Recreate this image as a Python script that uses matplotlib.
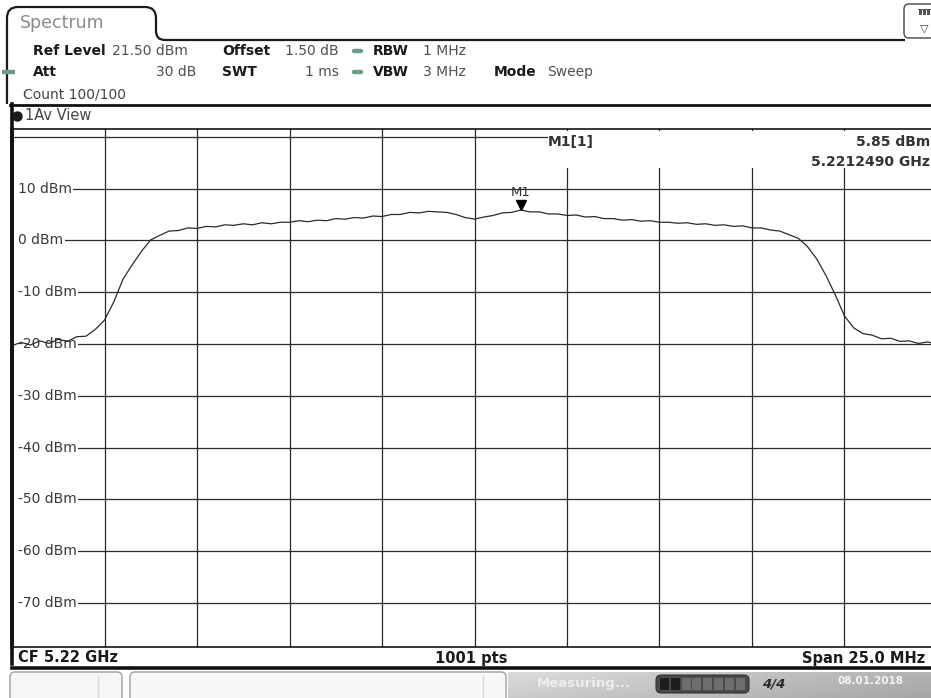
import numpy as np
import matplotlib.pyplot as plt
from matplotlib.path import Path
from matplotlib.patches import PathPatch, FancyBboxPatch, Rectangle
from matplotlib.transforms import offset_copy

# Sweep setup
center_ghz = 5.22
span_mhz = 25.0
ref_level = 21.5
range_db = 100.0
n_div = 10
n_pts = 1001

level_ticks = [20, 10, 0, -10, -20, -30, -40, -50, -60, -70]
level_labels = ["10 dBm", "0 dBm", "-10 dBm", "-20 dBm", "-30 dBm",
                "-40 dBm", "-50 dBm", "-60 dBm", "-70 dBm"]

# Averaged trace, one value every 0.25 MHz from -12.5 to +12.5 MHz
trace_dbm = [
    -20.3, -19.7, -20.2, -19.4, -19.9, -19.1, -19.5, -18.6, -18.5,
    -17.2, -15.4, -11.9, -7.5, -4.7, -2.1, 0.1, 1.0, 1.8, 1.9,
    2.4, 2.3, 2.7, 2.6, 3.0, 2.9, 3.2, 3.0, 3.4, 3.2,
    3.5, 3.5, 3.8, 3.6, 3.9, 3.8, 4.2, 4.1, 4.4, 4.3,
    4.7, 4.6, 5.0, 5.0, 5.4, 5.3, 5.6, 5.5, 5.4, 5.0,
    4.4, 4.1,
    4.5, 4.8, 5.3, 5.4, 5.85, 5.5, 5.5, 5.1, 5.1, 4.8,
    4.9, 4.5, 4.6, 4.2, 4.2, 3.9, 4.0, 3.7, 3.8, 3.5,
    3.5, 3.3, 3.4, 3.1, 3.2, 2.9, 3.0, 2.7, 2.8, 2.4,
    2.4, 2.0, 1.8, 1.1, 0.4, -1.2, -3.6, -6.8, -10.5, -14.6,
    -16.9, -18.0, -18.3, -19.0, -18.9, -19.5, -19.4, -19.9, -19.6, -20.1,
]

# Marker 1
mk_freq_ghz = 5.2212490
mk_level = 5.85

offset_mhz = np.linspace(-span_mhz / 2, span_mhz / 2, len(trace_dbm))
freqs = center_ghz + offset_mhz / 1000.0
f_lo = center_ghz - span_mhz / 2000.0
f_hi = center_ghz + span_mhz / 2000.0

W, H = 931, 698
fig = plt.figure(figsize=(W / 100, H / 100), dpi=100)

# diagram area in pixels: x 12..937, y 129..647
ax = fig.add_axes([12 / W, (H - 647) / H, (937 - 12) / W, (647 - 129) / H])
ax.set_xlim(f_lo, f_hi)
ax.set_ylim(ref_level - range_db, ref_level)
ax.set_xticks(np.linspace(f_lo, f_hi, n_div + 1))
ax.set_yticks(level_ticks)
ax.tick_params(length=0, labelbottom=False, labelleft=False)
ax.set_axisbelow(True)
ax.grid(True, color="#2a2a2a", lw=0.9)
ax.spines["right"].set_visible(False)
ax.spines["left"].set_linewidth(2.6)
ax.spines["top"].set_linewidth(1.1)
ax.spines["bottom"].set_linewidth(1.1)

ytr = ax.get_yaxis_transform()
for lev, lab in zip(level_ticks[1:], level_labels):
    # blank the grid line between the frame and the label
    ax.add_patch(Rectangle((0, lev - 0.6), 0.01, 1.2, transform=ytr,
                           fc="white", ec="none", zorder=2))
    ax.text(0.0062, lev, lab, transform=ytr,
            ha="left", va="center", fontsize=10, color="#3a3a3a",
            bbox=dict(fc="white", ec="none", pad=1.2), zorder=3)

ax.plot(freqs, trace_dbm, color="#2b2b2b", lw=0.9, zorder=4)

tri_tr = offset_copy(ax.transData, fig=fig, x=0, y=3.6, units="points")
ax.plot([mk_freq_ghz], [mk_level], marker="v", ms=7, color="black",
        transform=tri_tr, zorder=5)
ax.text(mk_freq_ghz, mk_level, "M1",
        transform=offset_copy(ax.transData, fig=fig, y=13, units="points"),
        ha="center", va="center", fontsize=9.5, color="#333333", zorder=5)

# instrument frame and readouts, drawn in pixel coordinates
ui = fig.add_axes([0, 0, 1, 1], zorder=2)
ui.set_xlim(0, W)
ui.set_ylim(H, 0)
ui.patch.set_alpha(0)
ui.axis("off")

# Spectrum tab
verts = [(7, 104), (7, 18), (7, 7), (18, 7), (145, 7), (156, 7), (156, 18),
         (156, 31), (156, 40), (165, 40), (905, 40)]
codes = [Path.MOVETO, Path.LINETO, Path.CURVE3, Path.CURVE3, Path.LINETO,
         Path.CURVE3, Path.CURVE3, Path.LINETO, Path.CURVE3, Path.CURVE3, Path.LINETO]
ui.add_patch(PathPatch(Path(verts, codes), fill=False, lw=1.6, ec="#1a1a1a"))
ui.text(20, 23, "Spectrum", fontsize=12.5, color="#8a8a8a", va="center")

# display-config icon at top right
ui.add_patch(FancyBboxPatch((904, 4), 40, 34, boxstyle="round,pad=0,rounding_size=5",
                            fc="white", ec="#444444", lw=1.0))
for i in range(3):
    ui.add_patch(Rectangle((919 + i * 4, 10), 3.2, 5, fc="#555555", ec="none"))
ui.add_patch(Rectangle((918, 9), 13, 1.2, fc="#555555", ec="none"))
ui.text(924, 28, "\u25bd", fontsize=8, color="#444444", ha="center", va="center")

# settings header
bold = dict(fontsize=10, fontweight="bold", color="#1a1a1a", va="center")
norm = dict(fontsize=10, color="#505050", va="center")
ui.text(33, 51, "Ref Level", **bold)
ui.text(112, 51, "21.50 dBm", **norm)
ui.text(222, 51, "Offset", **bold)
ui.text(339, 51, "1.50 dB", ha="right", **norm)
ui.text(373, 51, "RBW", **bold)
ui.text(423, 51, "1 MHz", **norm)

ui.text(33, 72, "Att", **bold)
ui.text(196, 72, "30 dB", ha="right", **norm)
ui.text(222, 72, "SWT", **bold)
ui.text(339, 72, "1 ms", ha="right", **norm)
ui.text(373, 72, "VBW", **bold)
ui.text(423, 72, "3 MHz", **norm)
ui.text(494, 72, "Mode", **bold)
ui.text(547, 72, "Sweep", **norm)

ui.text(23, 94, "Count 100/100", fontsize=10, color="#444444", va="center")

green = "#6a9e85"
for yy in (51, 72):
    ui.plot([354, 361], [yy, yy], color=green, lw=3.2, solid_capstyle="round")
ui.plot([2, 15], [72, 72], color=green, lw=3.2, solid_capstyle="butt")

# window title bar
ui.plot([10, W], [105, 105], color="#111111", lw=2.0)
ui.plot([12, 12], [104, 664], color="#111111", lw=2.6)
ui.plot([17], [116], marker="o", ms=6.5, color="#1a1a1a")
ui.text(25, 116, "1Av View", fontsize=10.5, color="#444444", va="center")

# marker readout box over the top of the grid
ui.add_patch(Rectangle((548, 130.5), 400, 37.5, fc="white", ec="none"))
ui.text(548, 142, "M1[1]", fontsize=10, fontweight="bold", color="#333333", va="center")
ui.text(930, 142, f"{mk_level:.2f} dBm", fontsize=10, fontweight="bold",
        color="#333333", va="center", ha="right")
ui.text(930, 162, f"{mk_freq_ghz:.7f} GHz", fontsize=10, fontweight="bold",
        color="#333333", va="center", ha="right")

# bottom scale bar
ui.text(18, 658, f"CF {center_ghz:.2f} GHz", fontsize=10.5, fontweight="bold",
        color="#1a1a1a", va="center")
ui.text(471, 658, f"{n_pts} pts", fontsize=10.5, fontweight="bold",
        color="#1a1a1a", va="center", ha="center")
ui.text(925, 658, f"Span {span_mhz:.1f} MHz", fontsize=10.5, fontweight="bold",
        color="#1a1a1a", va="center", ha="right")
ui.plot([12, W], [668, 668], color="#111111", lw=2.6)

# status bar
ui.add_patch(FancyBboxPatch((10, 672), 112, 32, boxstyle="round,pad=0,rounding_size=5",
                            fc="#f6f6f6", ec="#a0a0a0", lw=1.0))
ui.plot([98, 98], [676, 698], color="#d8d8d8", lw=1.0)
ui.add_patch(FancyBboxPatch((130, 672), 376, 32, boxstyle="round,pad=0,rounding_size=5",
                            fc="#f8f8f8", ec="#a0a0a0", lw=1.0))
ui.plot([483, 483], [676, 698], color="#d8d8d8", lw=1.0)
grad = np.linspace(0.86, 0.70, 64)[None, :] * np.linspace(1.0, 0.93, 16)[:, None]
ui.imshow(np.dstack([grad] * 3), extent=(508, W, 698, 672), aspect="auto", zorder=0.5)
ui.text(537, 684, "Measuring...", fontsize=9.5, fontweight="bold", color="#eeeeee", va="center")
ui.add_patch(FancyBboxPatch((656, 675), 93, 18, boxstyle="round,pad=0,rounding_size=5",
                            fc="#4a4a4a", ec="#333333", lw=0.8))
for i in range(8):
    col = "#1e1e1e" if i < 2 else "#6e6e6e"
    ui.add_patch(Rectangle((660 + i * 10.8, 678), 9, 12, fc=col, ec="none"))
ui.text(774, 684, "4/4", fontsize=9.5, fontweight="bold", style="italic",
        color="#2a2a2a", va="center", ha="center")
ui.text(871, 681, "08.01.2018", fontsize=7.5, fontweight="bold", color="#f4f4f4",
        va="center", ha="center")

fig.savefig("out.png", dpi=100)
